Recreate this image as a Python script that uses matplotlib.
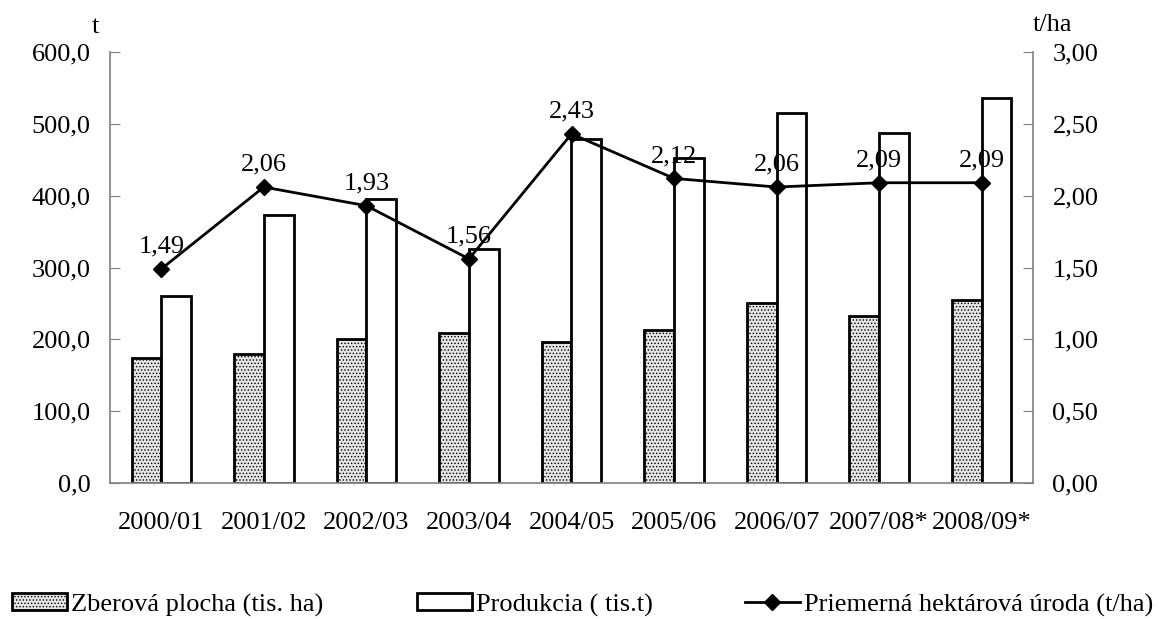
import matplotlib
matplotlib.use("Agg")
import matplotlib.pyplot as plt
import numpy as np
from matplotlib.patches import Patch
from matplotlib.lines import Line2D

categories = ["2000/01", "2001/02", "2002/03", "2003/04", "2004/05", "2005/06", "2006/07", "2007/08*", "2008/09*"]
area = [174, 180, 201, 209, 196, 213, 250, 233, 255]
production = [260, 373, 395, 326, 479, 453, 515, 487, 536]
yield_ha = [1.49, 2.06, 1.93, 1.56, 2.43, 2.12, 2.06, 2.09, 2.09]
left_ticks = [0, 100, 200, 300, 400, 500, 600]
right_ticks = [0, 0.5, 1.0, 1.5, 2.0, 2.5, 3.0]

plt.rcParams['font.family'] = ['Liberation Serif', 'DejaVu Serif']
plt.rcParams['hatch.color'] = '#b8b8b8'
plt.rcParams['hatch.linewidth'] = 0.6
fs = 19
gray_face = '#e4e4e4'

fig = plt.figure(figsize=(11.63, 6.19), dpi=100)
ax = fig.add_axes([110/1163, 1 - 483/619, (1033-110)/1163, (483-52)/619])
ax2 = ax.twinx()

x = np.arange(len(categories))
w = 0.29
ax.bar(x - w/2, area, w, facecolor=gray_face, edgecolor='black', linewidth=2, hatch='.....', zorder=2)
ax.bar(x + w/2, production, w, facecolor='white', edgecolor='black', linewidth=2, zorder=2)

ax2.plot(x, yield_ha, color='black', linewidth=2, marker='D', markersize=8, zorder=3)
for xi, v in zip(x, yield_ha):
    ax2.annotate(f"{v:.2f}".replace('.', ','), (xi, v), xytext=(0, 8), textcoords='offset points',
                 ha='center', va='bottom', fontsize=fs)

ax.set_xlim(-0.5, len(categories) - 0.5)
ax.set_ylim(0, 600)
ax2.set_ylim(0, 3)
ax.set_yticks(left_ticks)
ax.set_yticklabels([f"{t:.1f}".replace('.', ',') for t in left_ticks], fontsize=fs)
ax2.set_yticks(right_ticks)
ax2.set_yticklabels([f"{t:.2f}".replace('.', ',') for t in right_ticks], fontsize=fs)
ax.set_xticks(x)
ax.set_xticklabels(categories, fontsize=fs)
ax.tick_params(axis='x', length=0, pad=21)
ax.tick_params(axis='y', direction='in', length=7, color='#808080', pad=14)
ax2.tick_params(axis='y', direction='in', length=7, color='#808080', pad=14)

for a in (ax, ax2):
    a.spines['top'].set_visible(False)
    for s in ('left', 'right', 'bottom'):
        a.spines[s].set_color('#808080')
        a.spines[s].set_linewidth(1.2)
ax.spines['right'].set_visible(False)
ax2.spines['left'].set_visible(False)
ax2.spines['bottom'].set_visible(False)

fig.text(95/1163, 1 - 27/619, "t", fontsize=fs, ha='center', va='center')
fig.text(1052/1163, 1 - 25/619, "t/ha", fontsize=fs, ha='center', va='center')

legend_kw = dict(frameon=False, fontsize=fs, handlelength=2.08, handleheight=0.6, handletextpad=0.15,
                 borderaxespad=0, borderpad=0, loc='center left')
h1 = Patch(facecolor=gray_face, edgecolor='black', linewidth=2, hatch='.....')
h2 = Patch(facecolor='white', edgecolor='black', linewidth=2)
h3 = Line2D([], [], color='black', linewidth=2, marker='D', markersize=8)
fig.legend([h1], ["Zberová plocha (tis. ha)"], bbox_to_anchor=(12/1163, 1 - 605/619), **legend_kw)
fig.legend([h2], ["Produkcia ( tis.t)"], bbox_to_anchor=(417/1163, 1 - 605/619), **legend_kw)
fig.legend([h3], ["Priemerná hektárová úroda (t/ha)"], bbox_to_anchor=(745/1163, 1 - 605/619), **legend_kw)

fig.savefig("out.png", dpi=100)
